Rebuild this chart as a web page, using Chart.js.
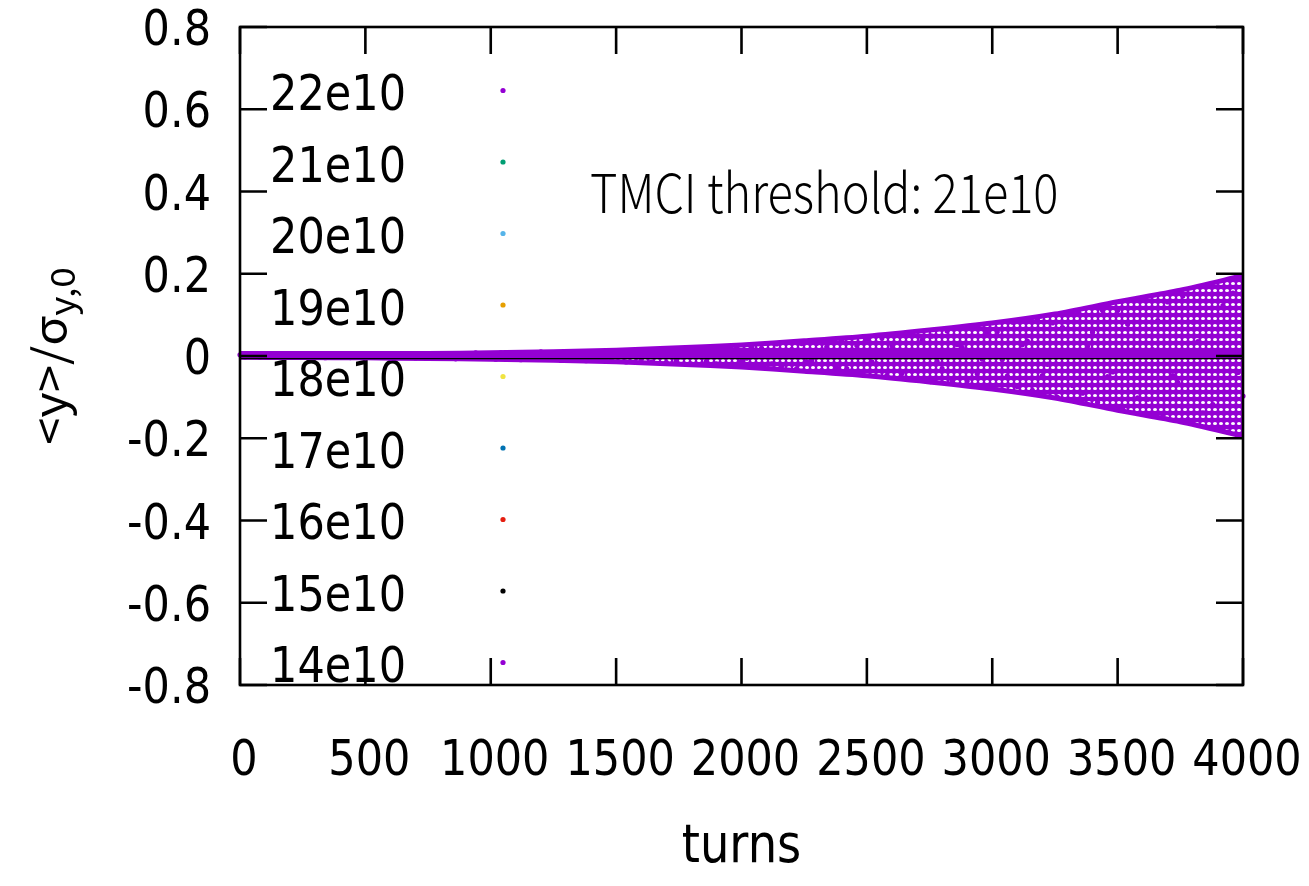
<!DOCTYPE html>
<html>
<head>
<meta charset="utf-8">
<script src="https://cdn.jsdelivr.net/npm/chart.js@4.4.0/dist/chart.umd.min.js"></script>
<style>
  html, body { margin: 0; padding: 0; background: #fff; }
  #wrap { width: 1309px; height: 886px; }
</style>
</head>
<body>
<div id="wrap"><canvas id="chart-centroid" width="1309" height="886"></canvas></div>
<script>
// bunch intensities, in plotting order
const seriesNames = ['22e10', '21e10', '20e10', '19e10', '18e10', '17e10', '16e10', '15e10', '14e10'];
const seriesColors = ['#9400d3', '#009e73', '#56b4e9', '#e69f00', '#f0e442', '#0072b2', '#e51e10', '#000000', '#9400d3'];

// 22e10: <y>/sigma sampled every 20 turns (0 .. 4000)
const turnStep = 20;
const centroid22 = [
  0.0030, -0.0023, 0.0003, 0.0019, -0.0031,
  0.0029, -0.0010, -0.0014, 0.0031, -0.0033,
  0.0018, 0.0007, -0.0029, 0.0037, -0.0025,
  0.0000, 0.0026, -0.0040, 0.0032, -0.0009,
  -0.0021, 0.0041, -0.0039, 0.0018, 0.0014,
  -0.0039, 0.0045, -0.0028, -0.0005, 0.0036,
  -0.0050, 0.0038, -0.0006, -0.0032, 0.0055,
  -0.0049, 0.0018, 0.0024, -0.0056, 0.0060,
  -0.0032, -0.0014, 0.0054, -0.0068, 0.0047,
  0.0000, -0.0049, 0.0075, -0.0061, 0.0016,
  0.0040, -0.0078, 0.0077, -0.0035, -0.0027,
  0.0077, -0.0089, 0.0055, 0.0010, -0.0073,
  0.0100, -0.0076, 0.0011, 0.0063, -0.0108,
  0.0097, -0.0036, -0.0048, 0.0110, -0.0116,
  0.0063, 0.0027, -0.0106, 0.0133, -0.0092,
  0.0000, 0.0096, -0.0146, 0.0121, -0.0032,
  -0.0079, 0.0153, -0.0151, 0.0069, 0.0053,
  -0.0153, 0.0177, -0.0109, -0.0020, 0.0144,
  -0.0198, 0.0151, -0.0022, -0.0125, 0.0213,
  -0.0193, 0.0070, 0.0095, -0.0218, 0.0233,
  -0.0125, -0.0053, 0.0212, -0.0268, 0.0184,
  0.0000, -0.0193, 0.0294, -0.0244, 0.0064,
  0.0158, -0.0308, 0.0303, -0.0138, -0.0108,
  0.0308, -0.0357, 0.0220, 0.0040, -0.0291,
  0.0400, -0.0305, 0.0044, 0.0253, -0.0430,
  0.0390, -0.0142, -0.0192, 0.0440, -0.0468,
  0.0251, 0.0107, -0.0426, 0.0534, -0.0367,
  0.0000, 0.0384, -0.0584, 0.0485, -0.0128,
  -0.0313, 0.0610, -0.0599, 0.0273, 0.0211,
  -0.0605, 0.0699, -0.0430, -0.0079, 0.0568,
  -0.0780, 0.0591, -0.0085, -0.0487, 0.0826,
  -0.0746, 0.0272, 0.0365, -0.0836, 0.0887,
  -0.0476, -0.0202, 0.0802, -0.1005, 0.0689,
  0.0000, -0.0717, 0.1089, -0.0903, 0.0237,
  0.0580, -0.1126, 0.1104, -0.0501, -0.0388,
  0.1108, -0.1273, 0.0779, 0.0141, -0.1016,
  0.1390, -0.1052, 0.0151, 0.0863, -0.1461,
  0.1316, -0.0478, -0.0640, 0.1461, -0.1544,
  0.0825, 0.0349, -0.1383, 0.1731, -0.1184,
  0.0000, 0.1224, -0.1851, 0.1529, -0.0399,
  -0.0975
];

// 22e10 oscillation envelope, every 250 turns
const envelopeTurns = [0, 250, 500, 750, 1000, 1250, 1500, 1750, 2000, 2250, 2500, 2750, 3000, 3250, 3500, 3750, 4000];
const envelopeUpper = [0.003, 0.0037, 0.0045, 0.006, 0.008, 0.0106, 0.014, 0.02, 0.027, 0.037, 0.048, 0.063, 0.08, 0.102, 0.132, 0.16, 0.195];
const envelopeLower = [-0.003, -0.0037, -0.0045, -0.006, -0.008, -0.0106, -0.014, -0.02, -0.027, -0.037, -0.048, -0.063, -0.08, -0.102, -0.132, -0.16, -0.195];

// the stable intensities stay on the axis
const turnsCoarse = [0, 500, 1000, 1500, 2000, 2500, 3000, 3500, 4000];
const centroid21 = [0.003, 0.003, 0.004, 0.004, 0.004, 0.005, 0.005, 0.005, 0.006];
const centroid20 = [0.003, 0.003, 0.003, 0.003, 0.003, 0.003, 0.003, 0.003, 0.003];
const centroid19 = [0.004, 0.004, 0.004, 0.004, 0.004, 0.004, 0.004, 0.004, 0.004];
const centroid18 = [0.002, 0.002, 0.002, 0.002, 0.002, 0.002, 0.002, 0.002, 0.002];
const centroid17 = [0.001, 0.001, 0.001, 0.001, 0.001, 0.001, 0.001, 0.001, 0.001];
const centroid16 = [0.000, 0.000, 0.000, 0.000, 0.000, 0.000, 0.000, 0.000, 0.000];
const centroid15 = [-0.005, -0.005, -0.005, -0.005, -0.005, -0.005, -0.005, -0.005, -0.005];
const centroid14 = [0.0035, 0.0035, 0.0035, 0.0035, 0.0035, 0.0035, 0.0035, 0.0035, 0.0035];

const xTicks = [0, 500, 1000, 1500, 2000, 2500, 3000, 3500, 4000];
const yTicks = [-0.8, -0.6, -0.4, -0.2, 0, 0.2, 0.4, 0.6, 0.8];
const yTickLabels = ['-0.8', '-0.6', '-0.4', '-0.2', '0', '0.2', '0.4', '0.6', '0.8'];
const noteText = 'TMCI threshold: 21e10';

const tickFont = '50px "DejaVu Sans"';
const squeeze = 0.86;
const violet = seriesColors[0];

function squeezedText(ctx, text, x, y, align, sx) {
  ctx.save();
  ctx.translate(x, y);
  ctx.scale(sx || squeeze, 1);
  ctx.textAlign = align;
  ctx.textBaseline = 'alphabetic';
  ctx.fillText(text, 0, 0);
  ctx.restore();
}

// dotted texture for the unstable band: violet with small gaps
function dotTexture() {
  const tile = document.createElement('canvas');
  tile.width = 6;
  tile.height = 7;
  const t = tile.getContext('2d');
  t.fillStyle = violet;
  t.fillRect(0, 0, 6, 7);
  t.fillStyle = '#ffffff';
  t.beginPath();
  t.ellipse(3, 3.5, 2.0, 1.6, 0, 0, Math.PI * 2);
  t.fill();
  return t.createPattern(tile, 'repeat');
}

const coarse = (vals) => turnsCoarse.map((t, i) => ({ x: t, y: vals[i] }));
const envelope = (vals) => envelopeTurns.map((t, i) => ({ x: t, y: vals[i] }));

const datasets = [
  {
    label: seriesNames[0] + ' upper',
    data: envelope(envelopeUpper),
    showLine: true,
    pointRadius: 0,
    borderWidth: 5,
    borderColor: violet,
    backgroundColor: dotTexture(),
    fill: '+1',
    tension: 0.3
  },
  {
    label: seriesNames[0] + ' lower',
    data: envelope(envelopeLower),
    showLine: true,
    pointRadius: 0,
    borderWidth: 5,
    borderColor: violet,
    backgroundColor: violet,
    tension: 0.3
  },
  {
    label: seriesNames[0],
    data: centroid22.map((v, i) => ({ x: i * turnStep, y: v })),
    showLine: false,
    pointRadius: 2.6,
    pointBorderWidth: 0,
    backgroundColor: violet,
    borderColor: violet
  }
];
const flatSeries = [centroid21, centroid20, centroid19, centroid18, centroid17, centroid16, centroid15, centroid14];
const flatWidths = [5, 5, 5, 5, 5, 5, 2.4, 7];
flatSeries.forEach((vals, k) => {
  datasets.push({
    label: seriesNames[k + 1],
    data: coarse(vals),
    showLine: true,
    pointRadius: 0,
    borderWidth: flatWidths[k],
    borderColor: seriesColors[k + 1],
    backgroundColor: seriesColors[k + 1]
  });
});
// later intensities go on top
datasets.forEach((d, i) => { d.order = datasets.length - i; d.clip = false; });

const gnuplotFrame = {
  id: 'gnuplotFrame',
  beforeDatasetsDraw(chart) {
    const ctx = chart.ctx;
    ctx.save();
    ctx.font = tickFont;
    seriesNames.forEach((name, i) => {
      const rowY = 92 + i * 71.5;
      ctx.fillStyle = '#000';
      squeezedText(ctx, name, 406, rowY + 18, 'right');
      ctx.beginPath();
      ctx.arc(503, rowY - 1.5, 2.6, 0, Math.PI * 2);
      ctx.fillStyle = seriesColors[i];
      ctx.fill();
    });
    ctx.restore();
  },
  afterDatasetsDraw(chart) {
    const ctx = chart.ctx;
    const a = chart.chartArea;
    const xs = chart.scales.x;
    const ys = chart.scales.y;
    const tickLen = 27;
    ctx.save();
    ctx.strokeStyle = '#000';
    ctx.lineWidth = 2.6;
    ctx.strokeRect(a.left, a.top, a.right - a.left, a.bottom - a.top);

    ctx.beginPath();
    xTicks.forEach(v => {
      const px = xs.getPixelForValue(v);
      ctx.moveTo(px, a.bottom); ctx.lineTo(px, a.bottom - tickLen);
      ctx.moveTo(px, a.top); ctx.lineTo(px, a.top + tickLen);
    });
    yTicks.forEach(v => {
      const py = ys.getPixelForValue(v);
      ctx.moveTo(a.left, py); ctx.lineTo(a.left + tickLen, py);
      ctx.moveTo(a.right, py); ctx.lineTo(a.right - tickLen, py);
    });
    ctx.stroke();

    ctx.fillStyle = '#000';
    ctx.font = tickFont;
    xTicks.forEach(v => {
      squeezedText(ctx, String(v), xs.getPixelForValue(v) + 4, a.bottom + 90, 'center');
    });
    yTicks.forEach((v, i) => {
      squeezedText(ctx, yTickLabels[i], a.left - 29, ys.getPixelForValue(v) + 18, 'right');
    });

    // x axis title
    ctx.font = '54px "DejaVu Sans"';
    squeezedText(ctx, 'turns', (a.left + a.right) / 2, 862, 'center');

    // y axis title with subscript
    ctx.save();
    ctx.translate(66, (a.top + a.bottom) / 2);
    ctx.rotate(-Math.PI / 2);
    ctx.scale(1, 0.92);
    const mainFont = '49px "Noto Sans CJK SC"';
    const subFont = '37px "Noto Sans CJK SC"';
    ctx.font = mainFont;
    const w1 = ctx.measureText('<y>/σ').width;
    ctx.font = subFont;
    const w2 = ctx.measureText('y,0').width;
    const start = -(w1 + w2) / 2;
    ctx.textAlign = 'left';
    ctx.textBaseline = 'alphabetic';
    ctx.font = mainFont;
    ctx.fillText('<y>/σ', start, 0);
    ctx.font = subFont;
    ctx.fillText('y,0', start + w1, 10);
    ctx.restore();

    // threshold note
    ctx.font = '300 54px "Noto Sans CJK SC"';
    squeezedText(ctx, noteText, 590, 213, 'left', 0.87);
    ctx.restore();
  }
};

const config = {
  type: 'scatter',
  data: { datasets: datasets },
  options: {
    responsive: false,
    animation: false,
    layout: { padding: { left: 240, right: 66, top: 27, bottom: 201 } },
    plugins: {
      legend: { display: false },
      tooltip: { enabled: false }
    },
    scales: {
      x: { type: 'linear', display: false, min: 0, max: 4000 },
      y: { type: 'linear', display: false, min: -0.8, max: 0.8 }
    }
  },
  plugins: [gnuplotFrame]
};

const chartCentroid = new Chart(document.getElementById('chart-centroid'), config);
</script>
</body>
</html>
